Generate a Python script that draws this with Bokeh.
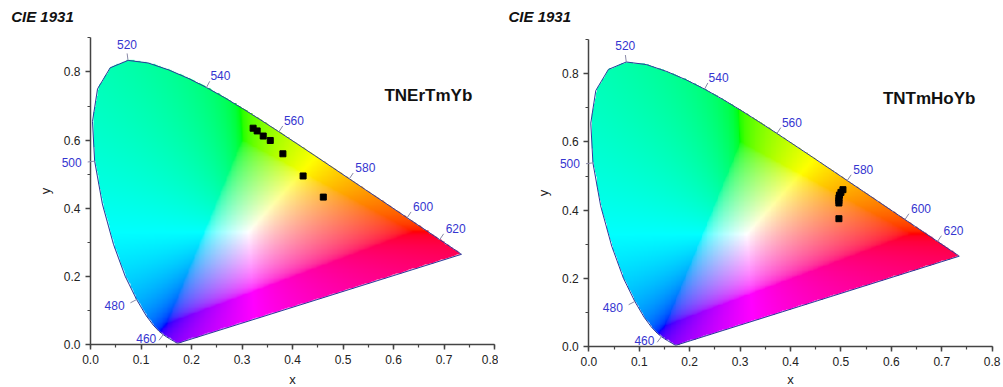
import numpy as np
from bokeh.plotting import figure
from bokeh.layouts import row
from bokeh.models import Range1d, SingleIntervalTicker, PrintfTickFormatter, Label, Arrow
from bokeh.embed import file_html
from bokeh.resources import INLINE

# CIE 1931 2-degree spectral locus (chromaticity x, y), 380-700 nm at 5 nm
wavelengths = list(range(380, 705, 5))
locus_x = [0.1741, 0.1740, 0.1738, 0.1736, 0.1733, 0.1730, 0.1726, 0.1721, 0.1714, 0.1703,
           0.1689, 0.1669, 0.1644, 0.1611, 0.1566, 0.1510, 0.1440, 0.1355, 0.1241, 0.1096,
           0.0913, 0.0687, 0.0454, 0.0235, 0.0082, 0.0039, 0.0139, 0.0389, 0.0743, 0.1142,
           0.1547, 0.1929, 0.2296, 0.2658, 0.3016, 0.3373, 0.3731, 0.4087, 0.4441, 0.4788,
           0.5125, 0.5448, 0.5752, 0.6029, 0.6270, 0.6482, 0.6658, 0.6801, 0.6915, 0.7006,
           0.7079, 0.7140, 0.7190, 0.7230, 0.7260, 0.7283, 0.7300, 0.7311, 0.7320, 0.7327,
           0.7334, 0.7340, 0.7344, 0.7346, 0.7347]
locus_y = [0.0050, 0.0050, 0.0049, 0.0049, 0.0048, 0.0048, 0.0048, 0.0048, 0.0051, 0.0058,
           0.0069, 0.0086, 0.0109, 0.0138, 0.0177, 0.0227, 0.0297, 0.0399, 0.0578, 0.0868,
           0.1327, 0.2007, 0.2950, 0.4127, 0.5384, 0.6548, 0.7502, 0.8120, 0.8338, 0.8262,
           0.8059, 0.7816, 0.7543, 0.7243, 0.6923, 0.6589, 0.6245, 0.5896, 0.5547, 0.5202,
           0.4866, 0.4544, 0.4242, 0.3965, 0.3725, 0.3514, 0.3340, 0.3197, 0.3083, 0.2993,
           0.2920, 0.2859, 0.2809, 0.2770, 0.2740, 0.2717, 0.2700, 0.2689, 0.2680, 0.2673,
           0.2666, 0.2660, 0.2656, 0.2654, 0.2653]

label_wavelengths = [460, 480, 500, 520, 540, 560, 580, 600, 620]

left_name = "TNErTmYb"
left_x = [0.322, 0.330, 0.342, 0.356, 0.381, 0.421, 0.461]
left_y = [0.635, 0.627, 0.612, 0.599, 0.560, 0.495, 0.433]

right_name = "TNTmHoYb"
right_x = [0.504, 0.500, 0.497, 0.496, 0.496, 0.496, 0.496]
right_y = [0.460, 0.452, 0.444, 0.436, 0.428, 0.421, 0.375]

title_text = "CIE 1931"

FONT = "Liberation Sans"
XMAX, YMAX = 0.8, 0.9

# screen offsets (px, right / down) of wavelength labels from their locus point
LABEL_OFFSETS = {460: (-17, 4), 480: (-22, 6), 500: (-23, 1), 520: (-1, -16), 540: (14, -12),
                 560: (15, -11), 580: (16, -11), 600: (16, -11), 620: (16, -11)}


def gamut_image(nx=480, ny=370):
    xs = np.linspace(0, XMAX, nx)
    ys = np.linspace(0, YMAX, ny)
    gx, gy = np.meshgrid(xs, ys)
    gyc = np.maximum(gy, 1e-4)
    X = gx / gyc
    Y = np.ones_like(gx)
    Z = (1 - gx - gy) / gyc
    r = 3.2406 * X - 1.5372 * Y - 0.4986 * Z
    g = -0.9689 * X + 1.8758 * Y + 0.0415 * Z
    b = 0.0557 * X - 0.2040 * Y + 1.0570 * Z
    rgb = np.stack([r, g, b], axis=-1)
    w = np.minimum(rgb.min(axis=-1, keepdims=True), 0)
    rgb = rgb - w
    mx = rgb.max(axis=-1, keepdims=True)
    mx[mx == 0] = 1
    rgb = rgb / mx
    rgb = np.where(rgb <= 0.0031308, 12.92 * rgb, 1.055 * np.power(rgb, 1 / 2.4) - 0.055)
    px = np.array(locus_x + [locus_x[0]])
    py = np.array(locus_y + [locus_y[0]])
    inside = np.zeros(gx.shape, dtype=bool)
    for i in range(len(px) - 1):
        xa, ya, xb, yb = px[i], py[i], px[i + 1], py[i + 1]
        if ya == yb:
            continue
        cond = (ya > gy) != (yb > gy)
        xint = xa + (gy - ya) * (xb - xa) / (yb - ya)
        inside ^= cond & (gx < xint)
    img = np.zeros((ny, nx), dtype=np.uint32)
    view = img.view(dtype=np.uint8).reshape((ny, nx, 4))
    for k in range(3):
        view[..., k] = np.clip(rgb[..., k] * 255 + 0.5, 0, 255).astype(np.uint8)
    view[..., 3] = np.where(inside, 255, 0).astype(np.uint8)
    return img


IMG = gamut_image()


def make_panel(name, sx_pts, sy_pts, width, height, x0_px, sx, y0_px, sy, title_px, name_xy,
               xlabel_standoff):
    x_range = Range1d(-x0_px / sx, (width - x0_px) / sx)
    y_range = Range1d(-(height - y0_px) / sy, y0_px / sy)
    p = figure(width=width, height=height, output_backend="svg", toolbar_location=None,
               x_range=x_range, y_range=y_range, title=None, min_border=0)
    p.outline_line_color = None
    p.grid.visible = False

    p.image_rgba(image=[IMG], x=0, y=0, dw=XMAX, dh=YMAX)

    bx = locus_x + [locus_x[0]]
    by = locus_y + [locus_y[0]]
    p.line(bx, by, line_color="#2e3a9a", line_width=1, line_join="round")

    for wl in label_wavelengths:
        i = wavelengths.index(wl)
        tx = (locus_x[i + 1] - locus_x[i - 1]) * sx
        ty = (locus_y[i + 1] - locus_y[i - 1]) * sy
        n = np.hypot(tx, ty)
        nx, ny = -ty / n, tx / n
        x0, y0 = locus_x[i], locus_y[i]
        tl = 7
        p.add_layout(Arrow(end=None, x_start=x0, y_start=y0,
                           x_end=x0 + nx * tl / sx, y_end=y0 + ny * tl / sy,
                           line_color="#8a8aa8", line_width=1))
        dx, dy = LABEL_OFFSETS[wl]
        p.add_layout(Label(x=x0, y=y0, x_offset=dx, y_offset=-dy, text=str(wl),
                           text_align="center", text_baseline="middle",
                           text_font=FONT, text_font_size="12px", text_color="#3535d0"))

    p.scatter(sx_pts, sy_pts, marker="square", size=6, color="black")

    p.add_layout(Label(x=name_xy[0], y=name_xy[1], text=name, text_align="center",
                       text_baseline="middle", text_font=FONT, text_font_size="17px",
                       text_font_style="bold", text_color="#111111"))
    p.add_layout(Label(x=(title_px[0] - x0_px) / sx, y=(y0_px - title_px[1]) / sy,
                       text=title_text, text_align="left", text_baseline="middle",
                       text_font=FONT, text_font_size="15px", text_font_style="bold italic",
                       text_color="#111111"))

    p.xaxis.ticker = SingleIntervalTicker(interval=0.1, num_minor_ticks=2)
    p.yaxis.ticker = SingleIntervalTicker(interval=0.2, num_minor_ticks=2)
    p.xaxis.bounds = (0, XMAX)
    p.yaxis.bounds = (0, YMAX)
    p.xaxis.fixed_location = 0
    p.yaxis.fixed_location = 0
    for ax in (p.xaxis, p.yaxis):
        ax.formatter = PrintfTickFormatter(format="%.1f")
        ax.axis_line_color = "#444444"
        ax.axis_line_width = 1.5
        ax.major_tick_line_color = "#444444"
        ax.minor_tick_line_color = "#444444"
        ax.major_tick_line_width = 1.5
        ax.minor_tick_line_width = 1.2
        ax.major_tick_out = 5
        ax.major_tick_in = 0
        ax.minor_tick_out = 3
        ax.minor_tick_in = 0
        ax.major_label_standoff = 5
        ax.major_label_text_font = FONT
        ax.major_label_text_font_size = "12px"
        ax.major_label_text_color = "#222222"
        ax.axis_label_text_font = FONT
        ax.axis_label_text_font_size = "13px"
        ax.axis_label_text_font_style = "normal"
        ax.axis_label_text_color = "#222222"
    p.xaxis.axis_label = "x"
    p.yaxis.axis_label = "y"
    p.xaxis.axis_label_standoff = xlabel_standoff
    p.yaxis.axis_label_standoff = 8
    return p


p1 = make_panel(left_name, left_x, left_y, 498, 387, 90.0, 505.0, 344.3, 341.1,
                (10.7, 16), (0.669, 0.731), 5)
p2 = make_panel(right_name, right_x, right_y, 505, 387, 90.3, 504.25, 346.3, 341.6,
                (10.0, 16), (0.675, 0.727), 3)
layout = row(p1, p2)

open("out.html", "w").write(file_html(layout, INLINE))
